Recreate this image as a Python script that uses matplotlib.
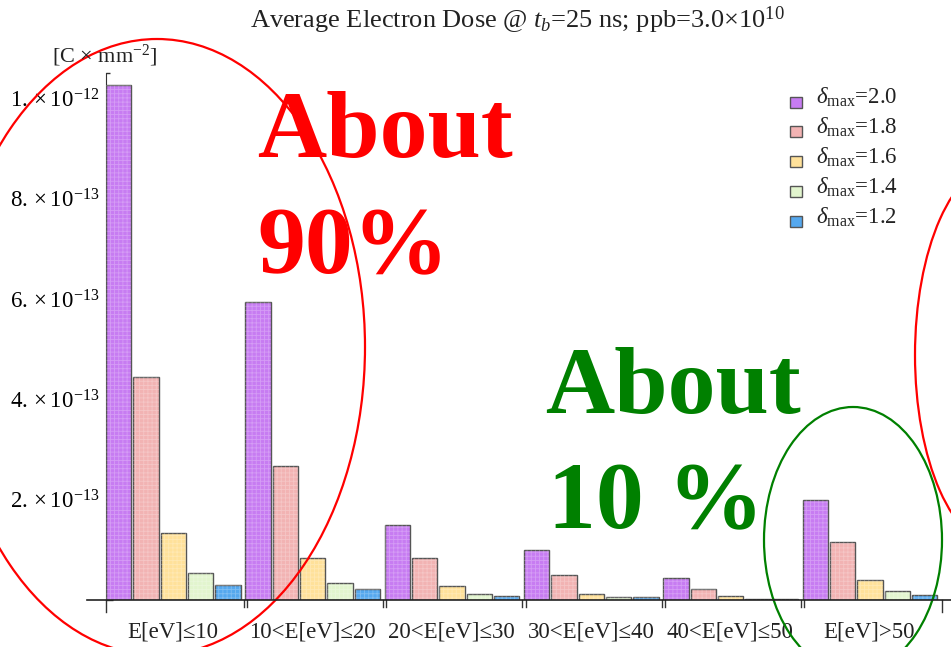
import numpy as np
import matplotlib
matplotlib.use("Agg")
import matplotlib.pyplot as plt
from matplotlib.patches import Ellipse, Rectangle
from matplotlib.ticker import MultipleLocator, FuncFormatter

plt.rcParams['font.family'] = ['Liberation Serif', 'DejaVu Serif']
plt.rcParams['mathtext.fontset'] = 'custom'
plt.rcParams['mathtext.rm'] = 'Liberation Serif'
plt.rcParams['mathtext.it'] = 'Liberation Serif:italic'
plt.rcParams['mathtext.bf'] = 'Liberation Serif:bold'
plt.rcParams['hatch.linewidth'] = 0.6

# energy bins
categories = ['E[eV]≤10', '10<E[eV]≤20', '20<E[eV]≤30',
              '30<E[eV]≤40', '40<E[eV]≤50', 'E[eV]>50']
# average dose per bin [C/mm^2] for each delta_max
delta_max = ['2.0', '1.8', '1.6', '1.4', '1.2']
dose_20 = [10.27e-13, 5.94e-13, 1.49e-13, 0.99e-13, 0.445e-13, 1.99e-13]
dose_18 = [4.44e-13, 2.67e-13, 0.84e-13, 0.49e-13, 0.225e-13, 1.16e-13]
dose_16 = [1.34e-13, 0.84e-13, 0.27e-13, 0.125e-13, 0.07e-13, 0.40e-13]
dose_14 = [0.54e-13, 0.345e-13, 0.12e-13, 0.05e-13, 0.02e-13, 0.17e-13]
dose_12 = [0.30e-13, 0.225e-13, 0.07e-13, 0.05e-13, 0.02e-13, 0.10e-13]
series = [dose_20, dose_18, dose_16, dose_14, dose_12]
colors = ['#C77CF2', '#F2B3B3', '#FFE19A', '#E2F5CE', '#55A8EE']

W, H = 951, 647
fig = plt.figure(figsize=(W / 100, H / 100), dpi=100)


def fx(x):
    return x / W


def fy(y):
    return 1 - y / H


ax_left, ax_right, ax_base, ax_top = 106, 942, 600, 73.2
ax = fig.add_axes([fx(ax_left), fy(ax_base), (ax_right - ax_left) / W, (ax_base - ax_top) / H])

pitch = 0.196
bw = 0.183
x0 = np.arange(len(categories))
for i, (vals, c) in enumerate(zip(series, colors)):
    xs = x0 + i * pitch
    ax.bar(xs, vals, width=bw, align='edge', color=c, edgecolor='#555555', linewidth=1.0, zorder=2)
    # fine texture on top of the fill
    ax.bar(xs, vals, width=bw, align='edge', color='none', edgecolor=(1, 1, 1, 0.25),
           linewidth=0, hatch='++++', zorder=3)

ax.set_xlim(0, 6)
ax.set_ylim(0, 1.05e-12)
for s in ['top', 'right', 'bottom']:
    ax.spines[s].set_visible(False)
ax.spines['left'].set_color('#333333')
ax.set_xticks([])
ax.yaxis.set_major_locator(MultipleLocator(2e-13))
ax.yaxis.set_minor_locator(MultipleLocator(0.5e-13))


def sci(v, pos):
    if v <= 0:
        return ''
    e = int(np.floor(np.log10(v) + 1e-9))
    m = int(round(v / 10 ** e))
    return r'$%d.\times10^{%d}$' % (m, e)


ax.yaxis.set_major_formatter(FuncFormatter(sci))
ax.tick_params(axis='y', which='major', direction='in', length=5, width=1, color='#333333',
               labelsize=16.5, pad=5)
ax.tick_params(axis='y', which='minor', direction='in', length=3, width=1, color='#333333')

# baseline and group separators
fig.add_artist(plt.Line2D([fx(87), fx(W)], [fy(600), fy(600)], color='#222222', lw=1.2))
tr = ax.get_xaxis_transform()
for g in range(len(categories) + 1):
    if g == 0 or g == len(categories):
        ax.plot([g, g], [0, -0.022], transform=tr, color='#333333', lw=1, clip_on=False)
    else:
        for d in (-0.013, 0.013):
            ax.plot([g + d, g + d], [0, -0.013], transform=tr, color='#333333', lw=1, clip_on=False)

for g, lab in enumerate(categories):
    ax.text(g + 0.48, -0.072, lab, transform=tr, ha='center', va='baseline', fontsize=16.5,
            color='#222222')

fig.text(fx(517), fy(28), r'Average Electron Dose @ $t_b$=25 ns; ppb=3.0×10$^{10}$',
         ha='center', va='baseline', fontsize=19, color='#222222')
fig.text(fx(52), fy(62), r'[C $\times$ mm$^{-2}$]', ha='left', va='baseline', fontsize=16,
         color='#222222')

# legend
for i, (d, c) in enumerate(zip(delta_max, colors)):
    yc = 102 + i * 29.8
    fig.add_artist(Rectangle((fx(790), fy(yc + 5.5)), 11.5 / W, 11 / H, transform=fig.transFigure,
                             facecolor=c, edgecolor='#555555', lw=1))
    fig.text(fx(816), fy(yc + 2), r'$\delta_{\mathrm{max}}$=' + d, ha='left', va='baseline',
             fontsize=16.5, color='#222222')

# annotations
fig.text(fx(257), fy(157), 'About', color='#FF0000', fontsize=69, fontweight='bold',
         ha='left', va='baseline')
fig.text(fx(257), fy(273), '90%', color='#FF0000', fontsize=69, fontweight='bold',
         ha='left', va='baseline')
fig.text(fx(545), fy(413), 'About', color='#008000', fontsize=69, fontweight='bold',
         ha='left', va='baseline')
fig.text(fx(548), fy(528), '10 %', color='#008000', fontsize=69, fontweight='bold',
         ha='left', va='baseline')

fig.add_artist(Ellipse((fx(157), fy(347)), 416 / W, 616 / H, transform=fig.transFigure,
                       fill=False, edgecolor='#FF0000', lw=1.6))
fig.add_artist(Ellipse((fx(1000), fy(355)), 170 / W, 384 / H, transform=fig.transFigure,
                       fill=False, edgecolor='#FF0000', lw=1.6))
fig.add_artist(Ellipse((fx(853), fy(540)), 178 / W, 266 / H, transform=fig.transFigure,
                       fill=False, edgecolor='#008000', lw=1.6))

fig.savefig('out.png', dpi=100)
